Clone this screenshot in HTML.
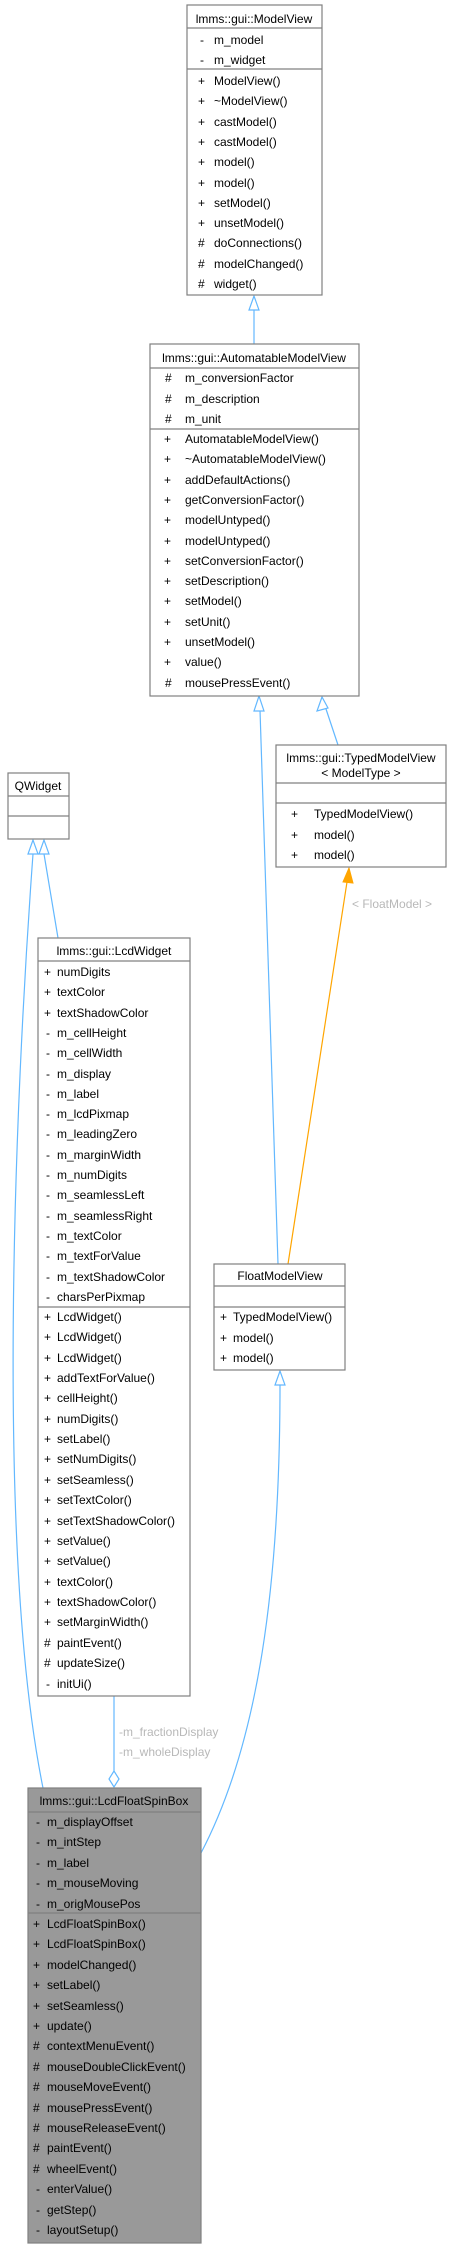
<!DOCTYPE html>
<html><head><meta charset="utf-8"><style>
html,body{margin:0;padding:0;background:#fff;}
svg{display:block;font-family:"Liberation Sans",Arial,sans-serif;font-size:12px;}
</style></head><body>
<svg width="452" height="2245" viewBox="0 0 452 2245" xmlns="http://www.w3.org/2000/svg">
<defs></defs>
<!-- edges -->
<g fill="none" stroke="#63b8ff" stroke-width="1.2">
<path d="M254 310 L254 344"/>
<path d="M260 710 L278 1264"/>
<path d="M326 709 L338 745"/>
<path d="M44 854 L58 938"/>
<path d="M33 854 C 15 1100, -5 1550, 43 1788"/>
<path d="M280 1385 C 280 1600, 255 1750, 201 1853"/>
<path d="M114 1696 L114 1771"/>
</g>
<g fill="#fff" stroke="#63b8ff" stroke-width="1.2">
<polygon points="254,296 249,310 259,310"/>
<polygon points="259,696 254,711 264,711"/>
<polygon points="322,697 317,711 328,708"/>
<polygon points="44,840 39,854 49,854"/>
<polygon points="33,840 28,854 38,854"/>
<polygon points="280,1371 275,1385 285,1385"/>
<polygon points="114,1771 109,1779 114,1787 119,1779"/>
</g>
<path d="M288 1264 L347 882" stroke="#ffa500" stroke-width="1.2" fill="none"/>
<polygon points="349,868 343,882 353,883" fill="#ffa500" stroke="#ffa500"/>
<g fill="#b8b8b8">
<text x="352" y="908">&lt; FloatModel &gt;</text>
<text x="119" y="1736">-m_fractionDisplay</text>
<text x="119" y="1756">-m_wholeDisplay</text>
</g>
<!-- boxes -->
<g stroke="#808080" stroke-width="1.2" fill="#fff">
<rect x="187" y="5" width="135" height="290"/>
<line x1="187" y1="28" x2="322" y2="28"/><line x1="187" y1="69" x2="322" y2="69"/>
<rect x="150" y="344" width="209" height="352"/>
<line x1="150" y1="368" x2="359" y2="368"/><line x1="150" y1="429" x2="359" y2="429"/>
<rect x="276" y="745" width="170" height="122"/>
<line x1="276" y1="783" x2="446" y2="783"/><line x1="276" y1="803" x2="446" y2="803"/>
<rect x="8" y="773" width="61" height="66"/>
<line x1="8" y1="796" x2="69" y2="796"/><line x1="8" y1="816" x2="69" y2="816"/>
<rect x="38" y="938" width="152" height="758"/>
<line x1="38" y1="961" x2="190" y2="961"/><line x1="38" y1="1307" x2="190" y2="1307"/>
<rect x="214" y="1264" width="131" height="106"/>
<line x1="214" y1="1286" x2="345" y2="1286"/><line x1="214" y1="1307" x2="345" y2="1307"/>
<rect x="28" y="1788" width="173" height="455" fill="#999"/>
<line x1="28" y1="1812" x2="201" y2="1812"/><line x1="28" y1="1913" x2="201" y2="1913"/>
</g>
<g fill="#000">
<!-- ModelView -->
<text x="254" y="23" text-anchor="middle">lmms::gui::ModelView</text>
<text x="200" y="44">-</text><text x="214" y="44">m_model</text>
<text x="200" y="64">-</text><text x="214" y="64">m_widget</text>
<text x="198" y="85">+</text><text x="214" y="85">ModelView()</text>
<text x="198" y="105">+</text><text x="214" y="105">~ModelView()</text>
<text x="198" y="126">+</text><text x="214" y="126">castModel()</text>
<text x="198" y="146">+</text><text x="214" y="146">castModel()</text>
<text x="198" y="166">+</text><text x="214" y="166">model()</text>
<text x="198" y="187">+</text><text x="214" y="187">model()</text>
<text x="198" y="207">+</text><text x="214" y="207">setModel()</text>
<text x="198" y="227">+</text><text x="214" y="227">unsetModel()</text>
<text x="198" y="247">#</text><text x="214" y="247">doConnections()</text>
<text x="198" y="268">#</text><text x="214" y="268">modelChanged()</text>
<text x="198" y="288">#</text><text x="214" y="288">widget()</text>
<!-- AMV -->
<text x="254" y="362" text-anchor="middle">lmms::gui::AutomatableModelView</text>
<text x="165" y="382">#</text><text x="185" y="382">m_conversionFactor</text>
<text x="165" y="403">#</text><text x="185" y="403">m_description</text>
<text x="165" y="423">#</text><text x="185" y="423">m_unit</text>
<text x="164" y="443">+</text><text x="185" y="443">AutomatableModelView()</text>
<text x="164" y="463">+</text><text x="185" y="463">~AutomatableModelView()</text>
<text x="164" y="484">+</text><text x="185" y="484">addDefaultActions()</text>
<text x="164" y="504">+</text><text x="185" y="504">getConversionFactor()</text>
<text x="164" y="524">+</text><text x="185" y="524">modelUntyped()</text>
<text x="164" y="545">+</text><text x="185" y="545">modelUntyped()</text>
<text x="164" y="565">+</text><text x="185" y="565">setConversionFactor()</text>
<text x="164" y="585">+</text><text x="185" y="585">setDescription()</text>
<text x="164" y="605">+</text><text x="185" y="605">setModel()</text>
<text x="164" y="626">+</text><text x="185" y="626">setUnit()</text>
<text x="164" y="646">+</text><text x="185" y="646">unsetModel()</text>
<text x="164" y="666">+</text><text x="185" y="666">value()</text>
<text x="165" y="687">#</text><text x="185" y="687">mousePressEvent()</text>
<!-- TMV -->
<text x="361" y="762" text-anchor="middle">lmms::gui::TypedModelView</text>
<text x="361" y="777" text-anchor="middle">&lt; ModelType &gt;</text>
<text x="291" y="818">+</text><text x="314" y="818">TypedModelView()</text>
<text x="291" y="839">+</text><text x="314" y="839">model()</text>
<text x="291" y="859">+</text><text x="314" y="859">model()</text>
<!-- QWidget -->
<text x="38" y="790" text-anchor="middle">QWidget</text>
<!-- LcdWidget -->
<text x="114" y="955" text-anchor="middle">lmms::gui::LcdWidget</text>
<text x="44" y="976">+</text><text x="57" y="976">numDigits</text>
<text x="44" y="996">+</text><text x="57" y="996">textColor</text>
<text x="44" y="1017">+</text><text x="57" y="1017">textShadowColor</text>
<text x="46" y="1037">-</text><text x="57" y="1037">m_cellHeight</text>
<text x="46" y="1057">-</text><text x="57" y="1057">m_cellWidth</text>
<text x="46" y="1078">-</text><text x="57" y="1078">m_display</text>
<text x="46" y="1098">-</text><text x="57" y="1098">m_label</text>
<text x="46" y="1118">-</text><text x="57" y="1118">m_lcdPixmap</text>
<text x="46" y="1138">-</text><text x="57" y="1138">m_leadingZero</text>
<text x="46" y="1159">-</text><text x="57" y="1159">m_marginWidth</text>
<text x="46" y="1179">-</text><text x="57" y="1179">m_numDigits</text>
<text x="46" y="1199">-</text><text x="57" y="1199">m_seamlessLeft</text>
<text x="46" y="1220">-</text><text x="57" y="1220">m_seamlessRight</text>
<text x="46" y="1240">-</text><text x="57" y="1240">m_textColor</text>
<text x="46" y="1260">-</text><text x="57" y="1260">m_textForValue</text>
<text x="46" y="1281">-</text><text x="57" y="1281">m_textShadowColor</text>
<text x="46" y="1301">-</text><text x="57" y="1301">charsPerPixmap</text>
<text x="44" y="1321">+</text><text x="57" y="1321">LcdWidget()</text>
<text x="44" y="1341">+</text><text x="57" y="1341">LcdWidget()</text>
<text x="44" y="1362">+</text><text x="57" y="1362">LcdWidget()</text>
<text x="44" y="1382">+</text><text x="57" y="1382">addTextForValue()</text>
<text x="44" y="1402">+</text><text x="57" y="1402">cellHeight()</text>
<text x="44" y="1423">+</text><text x="57" y="1423">numDigits()</text>
<text x="44" y="1443">+</text><text x="57" y="1443">setLabel()</text>
<text x="44" y="1463">+</text><text x="57" y="1463">setNumDigits()</text>
<text x="44" y="1484">+</text><text x="57" y="1484">setSeamless()</text>
<text x="44" y="1504">+</text><text x="57" y="1504">setTextColor()</text>
<text x="44" y="1525">+</text><text x="57" y="1525">setTextShadowColor()</text>
<text x="44" y="1545">+</text><text x="57" y="1545">setValue()</text>
<text x="44" y="1565">+</text><text x="57" y="1565">setValue()</text>
<text x="44" y="1586">+</text><text x="57" y="1586">textColor()</text>
<text x="44" y="1606">+</text><text x="57" y="1606">textShadowColor()</text>
<text x="44" y="1626">+</text><text x="57" y="1626">setMarginWidth()</text>
<text x="44" y="1647">#</text><text x="57" y="1647">paintEvent()</text>
<text x="44" y="1667">#</text><text x="57" y="1667">updateSize()</text>
<text x="46" y="1688">-</text><text x="57" y="1688">initUi()</text>
<!-- FloatModelView -->
<text x="280" y="1280" text-anchor="middle">FloatModelView</text>
<text x="220" y="1321">+</text><text x="233" y="1321">TypedModelView()</text>
<text x="220" y="1342">+</text><text x="233" y="1342">model()</text>
<text x="220" y="1362">+</text><text x="233" y="1362">model()</text>
<!-- LcdFloatSpinBox -->
<text x="114" y="1805" text-anchor="middle">lmms::gui::LcdFloatSpinBox</text>
<text x="36" y="1826">-</text><text x="47" y="1826">m_displayOffset</text>
<text x="36" y="1846">-</text><text x="47" y="1846">m_intStep</text>
<text x="36" y="1867">-</text><text x="47" y="1867">m_label</text>
<text x="36" y="1887">-</text><text x="47" y="1887">m_mouseMoving</text>
<text x="36" y="1908">-</text><text x="47" y="1908">m_origMousePos</text>
<text x="33" y="1928">+</text><text x="47" y="1928">LcdFloatSpinBox()</text>
<text x="33" y="1948">+</text><text x="47" y="1948">LcdFloatSpinBox()</text>
<text x="33" y="1969">+</text><text x="47" y="1969">modelChanged()</text>
<text x="33" y="1989">+</text><text x="47" y="1989">setLabel()</text>
<text x="33" y="2010">+</text><text x="47" y="2010">setSeamless()</text>
<text x="33" y="2030">+</text><text x="47" y="2030">update()</text>
<text x="33" y="2050">#</text><text x="47" y="2050">contextMenuEvent()</text>
<text x="33" y="2071">#</text><text x="47" y="2071">mouseDoubleClickEvent()</text>
<text x="33" y="2091">#</text><text x="47" y="2091">mouseMoveEvent()</text>
<text x="33" y="2112">#</text><text x="47" y="2112">mousePressEvent()</text>
<text x="33" y="2132">#</text><text x="47" y="2132">mouseReleaseEvent()</text>
<text x="33" y="2152">#</text><text x="47" y="2152">paintEvent()</text>
<text x="33" y="2173">#</text><text x="47" y="2173">wheelEvent()</text>
<text x="36" y="2193">-</text><text x="47" y="2193">enterValue()</text>
<text x="36" y="2214">-</text><text x="47" y="2214">getStep()</text>
<text x="36" y="2234">-</text><text x="47" y="2234">layoutSetup()</text>
</g>
</svg>
</body></html>
